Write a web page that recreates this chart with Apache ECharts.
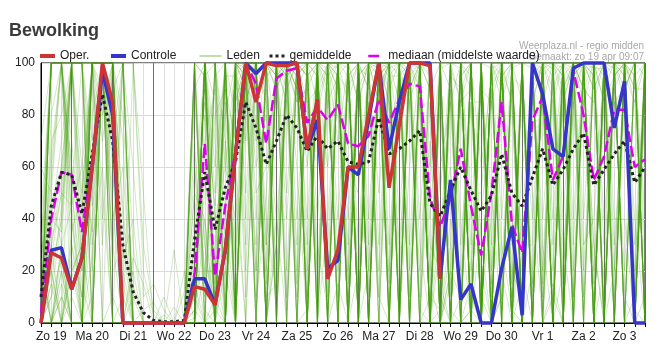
<!DOCTYPE html>
<html><head><meta charset="utf-8">
<script src="https://cdn.jsdelivr.net/npm/echarts@6/dist/echarts.min.js"></script>
<style>html,body{margin:0;padding:0;background:#fff}#c{width:671px;height:355px}</style>
</head><body><div id="c"></div>
<script>
// day tick labels (placed at noon of each day)
const dayLabels = ['Zo 19','Ma 20','Di 21','Wo 22','Do 23','Vr 24','Za 25','Zo 26','Ma 27','Di 28','Wo 29','Do 30','Vr 1','Za 2','Zo 3'];
// 6-hourly steps, first step = Zo 19 06:00
const oper = [0,27,25,13,25,60,100,85,0,0, 0,0,0,0,0,14,13,7,28,65, 100,85,100,99,99,100,67,86,17,28, 60,60,80,100,52,76,100,100,99,17];
const controle = [0,28,29,13,25,60,97,80,0,0, 0,0,0,0,0,17,17,7,28,65, 100,96,100,100,100,100,67,78,21,24, 60,57,78,100,67,85,100,100,100,18, 55,9,15,0,0,21,37,3,100,88, 67,64,98,100,100,100,75,93,0,0];
const gemiddelde = [10,45,58,57,42,65,88,70,30,12, 4,1,0.5,0.5,1,32,58,36,52,62, 85,75,61,70,80,75,66,72,67,70, 62,61,62,79,65,67,70,74,46,41, 51,60,51,43,49,65,50,45,56,67, 53,59,67,73,53,59,65,70,54,60];
const mediaan = [4,40,58,57,35,62,100,82,0,0, 0,0,0,0,0,19,69,18,45,66, 100,92,69,94,97,98,77,83,78,84, 69,68,72,86,77,86,92,91,48,37, 48,67,45,26,50,85,38,27,78,87, 55,64,97,80,55,64,82,82,60,63];
// ensemble members (50), listed per time step
const ledenPerStap = [
[0,5,20,0,10,0,0,30,0,15,0,0,8,0,25,0,40,0,0,12,0,20,0,0,0,60,0,5,0,10,35,0,0,18,0,0,0,0,22,0,0,10,0,0,70,0,0,28,0,0],
[20,60,100,0,45,100,30,100,0,25,100,10,55,100,0,70,100,40,0,100,35,0,100,15,100,50,0,100,20,65,0,100,30,100,0,10,100,40,0,80,100,20,0,50,100,0,30,100,15,0],
[40,100,100,20,60,100,0,100,30,50,100,25,100,100,0,80,100,35,10,100,60,0,100,45,100,30,20,100,0,100,15,100,55,100,0,40,100,70,0,100,100,0,30,100,100,10,50,100,0,25],
[100,60,100,0,100,100,20,50,45,100,70,0,100,100,30,100,40,100,0,60,100,35,0,100,50,100,0,100,25,100,0,100,100,40,0,100,20,100,10,55,30,100,0,100,100,0,45,100,20,0],
[100,20,30,0,100,45,0,100,60,0,25,0,100,100,0,40,10,100,0,35,100,50,0,100,15,100,0,60,0,100,0,100,20,0,0,100,30,100,0,0,10,100,0,100,50,0,0,100,30,0],
[100,100,50,100,30,100,0,100,100,60,100,40,100,0,100,100,80,0,100,100,20,100,100,70,0,100,100,35,100,0,100,0,100,100,55,100,0,100,25,100,100,60,0,100,100,0,100,45,100,10],
[100,100,100,100,60,100,100,100,90,100,100,100,30,100,100,100,100,100,70,100,100,85,100,100,100,0,100,100,100,100,100,100,100,50,100,100,95,100,100,0,100,100,100,100,40,100,100,100,80,100],
[100,50,100,100,0,100,75,100,30,100,0,100,100,60,100,20,100,100,100,40,100,100,0,100,85,100,30,100,0,100,100,70,100,0,100,100,45,100,100,10,90,100,0,100,100,25,100,0,100,65],
[0,100,0,20,0,100,0,45,0,100,10,0,100,0,0,30,100,0,0,60,0,0,100,0,15,0,100,0,0,80,0,100,0,0,40,0,0,100,0,0,100,0,0,25,0,100,0,0,70,0],
[0,0,0,0,0,100,0,0,0,30,0,0,60,0,0,0,0,0,20,0,0,0,0,0,0,100,0,0,0,15,0,100,0,0,0,0,0,0,10,0,0,0,0,40,0,0,0,0,0,25],
[0,0,0,0,0,30,0,0,0,0,0,0,10,0,0,0,0,0,0,0,0,0,0,0,0,50,0,0,0,0,0,20,0,0,0,0,0,0,0,0,0,0,0,0,0,0,0,5,0,15],
[0,0,0,0,0,5,0,0,0,0,0,0,15,0,0,0,0,0,0,0,0,0,0,0,0,0,0,0,0,0,0,3,0,0,0,0,0,0,0,0,0,0,0,0,0,0,0,8,0,0],
[0,0,0,0,0,0,0,0,0,0,0,0,5,0,0,0,0,0,0,0,0,0,0,0,0,10,0,0,0,0,0,0,0,0,0,0,0,0,0,0,0,0,0,0,0,0,0,0,0,3],
[0,0,0,6,0,0,0,0,0,0,0,0,0,0,0,0,0,0,0,0,0,0,0,0,0,0,0,0,0,0,0,0,0,0,0,0,0,28,0,0,0,0,0,0,0,0,0,0,0,0],
[0,0,0,0,0,0,0,0,0,0,0,0,0,0,0,0,0,0,0,12,0,0,0,0,0,0,0,0,0,0,0,0,0,0,0,0,0,0,0,0,0,20,0,0,0,0,0,0,0,0],
[0,100,5,0,20,95,0,10,40,0,100,0,2,60,0,90,0,10,30,100,0,5,100,0,30,0,0,85,50,0,100,0,15,0,98,0,50,0,0,70,0,0,100,0,25,15,0,100,0,0],
[100,95,0,100,50,10,100,0,85,100,0,100,98,20,80,100,0,90,100,5,100,70,0,100,0,60,100,30,100,20,95,0,100,100,0,100,40,100,40,0,100,0,15,100,90,0,100,30,0,100],
[0,100,10,0,95,30,0,100,45,5,100,0,20,80,0,0,100,0,60,0,15,90,0,0,100,0,40,0,100,20,0,5,100,0,0,85,0,40,0,100,50,0,100,0,10,0,70,0,0,10],
[100,0,95,20,100,80,0,45,100,0,10,100,0,90,100,0,70,0,100,30,100,5,100,85,0,100,0,70,0,100,0,100,30,0,95,0,100,60,0,60,100,0,100,0,20,90,0,100,40,0],
[0,100,95,60,10,100,90,0,100,85,100,0,100,70,0,100,25,100,30,100,0,98,100,0,100,80,100,0,90,5,100,100,0,85,0,100,20,100,100,40,0,95,100,100,0,50,100,0,100,70],
[100,95,100,0,100,100,90,100,70,100,98,100,20,100,85,100,100,95,100,50,100,100,90,100,10,100,100,80,100,95,100,40,100,100,98,100,100,90,30,100,100,85,100,100,100,0,95,100,100,100],
[100,10,100,95,100,40,100,85,100,0,100,90,100,20,100,100,60,98,0,100,100,95,5,100,80,100,100,30,100,100,0,100,90,100,20,100,100,85,100,0,100,100,95,50,100,100,0,100,70,100],
[0,100,100,15,100,90,0,100,30,100,100,5,100,95,0,100,80,0,100,100,20,100,50,100,0,100,10,100,85,0,100,100,0,40,100,0,100,95,0,100,0,100,100,60,100,30,100,0,100,0],
[100,95,20,100,100,0,100,90,100,10,0,100,100,98,30,100,40,100,100,70,100,0,100,95,100,100,15,100,0,100,100,90,100,10,100,100,0,100,30,100,100,5,100,100,0,100,95,40,100,100],
[100,100,95,100,0,100,90,100,100,98,100,20,100,85,100,100,0,100,95,100,100,90,100,10,100,100,100,95,100,40,0,100,100,98,100,50,100,85,100,100,100,100,5,100,95,100,100,90,0,100],
[100,0,100,95,100,90,30,100,100,85,100,98,100,0,100,100,95,100,10,100,0,100,90,100,100,20,100,100,85,100,100,95,0,100,60,100,0,15,100,100,100,90,100,100,0,100,40,100,98,100],
[0,100,95,10,100,100,90,0,100,85,100,20,100,98,100,0,100,60,100,0,100,95,0,100,30,100,100,0,90,100,0,100,100,85,0,100,5,100,70,0,100,40,100,0,100,95,100,0,100,10],
[100,95,0,100,100,20,100,90,100,5,100,100,85,0,100,98,40,100,100,100,10,100,95,100,100,100,0,100,30,100,100,0,100,90,100,100,100,0,80,100,100,100,0,100,15,100,95,100,0,100],
[100,0,100,95,30,100,100,0,90,100,10,100,100,100,85,0,100,98,0,100,100,95,20,100,0,100,100,100,5,100,100,90,0,100,100,0,100,40,100,100,0,100,85,0,100,100,60,100,100,0],
[0,100,95,100,100,10,100,100,30,100,100,90,0,100,20,100,100,85,100,0,100,5,100,98,100,100,0,100,100,95,40,100,100,100,0,100,90,100,0,100,100,100,95,0,100,0,100,70,100,15],
[100,95,0,100,15,100,0,100,90,0,100,30,100,0,100,85,100,0,100,100,5,100,100,20,100,0,95,100,0,100,100,100,0,98,100,60,0,10,100,0,0,100,90,100,0,100,40,100,100,0],
[0,100,98,10,100,100,90,0,100,20,100,95,0,100,0,100,5,100,85,0,100,0,100,100,30,100,100,0,95,100,0,100,90,0,100,50,100,100,0,100,100,15,0,100,100,0,100,85,0,100],
[100,0,95,100,20,100,0,100,90,100,0,100,100,10,100,0,98,40,100,100,100,85,0,100,100,0,5,100,100,0,100,0,100,95,0,100,100,30,100,0,0,100,100,0,90,100,0,100,20,100],
[100,95,100,10,100,100,90,100,0,100,100,100,85,100,30,100,100,98,100,0,100,20,100,95,100,100,100,0,100,90,100,100,100,50,100,85,100,100,98,100,100,100,0,100,95,10,100,100,90,100],
[100,0,100,95,10,100,100,30,90,100,100,5,100,0,100,98,100,0,85,0,0,100,100,100,20,100,0,100,95,100,100,90,0,100,0,100,100,60,100,0,100,0,100,85,100,0,100,100,15,100],
[100,100,0,95,100,20,100,90,0,100,10,100,100,85,0,100,100,98,0,100,100,40,100,0,100,95,100,0,100,5,0,100,90,100,100,0,100,100,70,0,100,100,0,30,100,100,0,85,100,100],
[0,100,95,100,10,100,100,90,100,0,100,98,30,100,100,0,100,85,100,100,100,100,95,0,100,5,100,100,0,100,100,20,100,100,90,100,0,100,100,60,0,100,100,85,0,100,100,0,100,95],
[100,100,0,100,95,100,10,100,100,90,100,0,100,100,98,100,100,20,100,100,0,100,100,85,100,100,0,100,100,30,100,95,100,0,100,100,100,90,0,100,100,100,5,100,100,85,40,100,100,0],
[0,100,10,100,0,30,100,0,95,0,100,0,100,5,0,90,0,100,20,100,0,100,0,40,100,0,85,0,100,0,100,0,15,100,0,100,0,60,100,0,0,100,0,98,0,10,100,0,90,70],
[100,0,5,0,95,20,100,0,0,100,0,90,0,100,60,0,100,10,100,0,85,0,30,100,0,100,0,0,15,100,0,100,0,0,98,0,40,100,50,0,100,0,90,0,0,100,0,5,100,0],
[0,100,95,20,0,100,0,90,100,10,100,0,30,100,85,0,100,0,5,100,0,98,100,0,40,100,0,100,0,90,100,0,100,15,100,0,60,0,100,0,0,100,0,95,0,100,20,100,0,85],
[100,0,90,100,10,100,95,0,100,85,0,100,100,30,100,0,98,100,0,100,100,85,0,100,20,100,0,100,90,0,5,100,100,95,0,100,0,100,40,100,100,0,100,0,100,85,10,100,100,0],
[0,100,20,95,100,0,100,5,0,90,100,0,100,85,0,100,30,0,100,10,0,100,95,0,100,0,100,50,100,85,100,0,0,100,15,100,98,0,0,100,0,100,40,100,0,0,100,90,0,5],
[100,0,95,0,60,100,10,100,0,0,5,100,0,20,100,0,90,0,100,0,100,0,30,100,0,0,100,50,0,85,0,100,0,10,100,0,0,95,0,100,100,0,100,0,40,100,0,0,90,0],
[0,100,10,100,95,0,40,100,0,90,100,0,100,0,20,100,85,0,5,100,0,100,0,98,0,100,30,100,100,0,100,0,90,0,0,100,100,15,100,0,0,100,0,100,85,0,100,0,50,100],
[100,95,100,0,100,20,100,90,10,100,100,100,0,85,100,100,30,100,98,0,100,0,100,100,10,100,95,0,100,100,0,100,20,100,0,100,5,100,85,100,100,40,100,0,100,98,100,0,0,100],
[0,100,20,100,0,95,0,100,90,10,0,100,100,30,100,0,5,85,0,100,100,0,100,0,98,40,100,0,0,100,100,15,0,100,90,0,100,0,100,0,10,100,0,100,0,85,0,100,0,100],
[100,0,10,100,0,90,100,0,30,100,95,0,0,100,20,100,0,5,100,0,0,100,0,40,100,0,85,100,0,10,0,100,98,0,0,100,0,60,100,0,100,0,100,0,90,0,15,100,0,100],
[0,100,95,10,100,0,100,90,30,100,0,100,85,100,0,100,20,100,98,0,100,5,100,95,0,100,40,0,100,90,100,0,15,100,100,0,100,85,0,0,100,95,0,100,50,100,100,0,100,0],
[100,98,0,100,90,100,20,100,100,0,100,10,100,85,100,0,100,95,30,100,0,100,100,90,100,5,100,100,100,40,100,100,85,0,100,100,0,100,98,0,15,100,100,100,0,90,100,100,0,100],
[100,0,100,20,0,95,100,0,90,10,0,100,30,100,98,0,5,100,0,100,100,85,0,0,100,100,40,100,0,90,0,100,10,100,0,100,85,0,100,15,100,0,100,0,95,0,0,100,60,100],
[0,100,95,100,20,100,0,85,0,100,100,10,100,98,0,100,90,0,100,30,5,100,100,0,100,40,100,95,0,100,100,85,0,100,100,0,15,100,90,0,100,0,100,85,0,100,0,100,100,20],
[100,95,10,100,100,90,100,0,100,30,100,100,98,0,100,20,100,85,100,0,100,0,100,95,100,100,5,100,90,0,40,100,100,100,0,100,98,0,100,100,100,85,0,100,100,10,100,100,0,100],
[100,100,95,0,100,100,20,100,90,100,10,100,100,98,100,85,0,100,100,100,100,95,0,100,30,100,100,90,0,0,100,100,85,100,0,100,100,98,40,100,100,5,100,100,90,100,0,100,100,100],
[0,100,20,100,95,0,100,10,100,0,100,0,90,30,100,100,0,98,0,100,5,100,100,0,40,100,0,85,100,0,100,95,0,100,0,15,100,0,100,90,0,100,0,100,85,0,100,0,30,100],
[100,0,95,100,10,100,0,90,100,20,0,100,100,0,85,0,100,98,0,100,100,95,30,100,100,0,100,0,85,100,0,100,90,5,100,100,0,100,0,100,100,40,100,0,100,0,100,85,0,100],
[100,95,0,100,100,20,100,90,0,100,100,100,10,100,0,85,100,0,100,98,0,100,100,95,30,100,100,100,0,100,100,0,100,90,100,0,20,40,100,100,100,85,0,100,5,100,100,95,0,100],
[100,100,95,0,100,100,90,10,100,100,98,0,100,100,85,20,100,100,95,0,100,100,0,100,90,100,0,100,100,85,0,100,95,100,0,100,100,40,100,0,100,90,100,0,100,100,0,100,98,100],
[0,100,100,10,95,0,100,0,90,100,20,100,0,100,0,98,0,100,85,0,100,0,100,30,100,0,100,95,0,5,100,90,0,100,0,100,15,0,100,100,0,100,0,100,85,0,100,0,40,100],
[100,0,95,100,0,100,20,100,90,0,100,100,10,100,95,0,100,0,100,85,0,100,30,100,100,98,0,100,85,0,0,100,100,5,100,0,100,95,0,100,100,0,90,100,0,100,40,100,0,100]
];

const FONT = "'Liberation Sans', Arial, sans-serif";
const steps = ledenPerStap.map((c, i) => String(i));

const series = [];
for (let m = 0; m < 50; m++) {
  series.push({
    name: 'Leden', type: 'line', data: ledenPerStap.map(c => c[m]),
    symbol: 'none', silent: true, z: 2,
    lineStyle: { color: '#48a012', width: 1, opacity: 0.24 },
    itemStyle: { color: '#48a012' }
  });
}
series.push({ name: 'mediaan (middelste waarde)', type: 'line', data: mediaan, symbol: 'none', z: 3,
  lineStyle: { color: '#dd00ee', width: 2.5, type: [11, 4] }, itemStyle: { color: '#dd00ee' } });
series.push({ name: 'gemiddelde', type: 'line', data: gemiddelde, symbol: 'none', z: 4,
  lineStyle: { color: '#222222', width: 3, type: [3, 3] }, itemStyle: { color: '#222222' } });
series.push({ name: 'Controle', type: 'line', data: controle, symbol: 'none', z: 5, clip: false,
  lineStyle: { color: '#3535c8', width: 3.5 }, itemStyle: { color: '#3535c8' } });
series.push({ name: 'Oper.', type: 'line', data: oper, symbol: 'none', z: 6, clip: false,
  lineStyle: { color: '#cc3535', width: 3.5 }, itemStyle: { color: '#cc3535' } });

function leg(name, left, w, lw, op) {
  const l = { data: [name], left: left, top: 50, itemWidth: w, itemHeight: 12, itemGap: 0,
    padding: 0, selectedMode: false,
    itemStyle: { opacity: 0 },
    textStyle: { fontFamily: FONT, fontSize: 12, color: '#222' } };
  if (lw) l.lineStyle = { width: lw, opacity: op == null ? 1 : op };
  return l;
}

const chart = echarts.init(document.getElementById('c'), null, { renderer: 'canvas' });
chart.setOption({
  animation: false,
  backgroundColor: '#fff',
  textStyle: { fontFamily: FONT },
  title: { text: 'Bewolking', left: 9, top: 22, padding: 0,
    textStyle: { fontFamily: FONT, fontSize: 18, fontWeight: 'bold', color: '#3a3a3a' } },
  graphic: [
    { type: 'text', right: 27, top: 41, style: { text: 'Weerplaza.nl - regio midden', fill: '#a8a8a8', font: '10px ' + FONT } },
    { type: 'text', right: 27, top: 52, style: { text: 'Gemaakt: zo 19 apr 09:07', fill: '#a8a8a8', font: '10px ' + FONT } }
  ],
  legend: [
    leg('Oper.', 38, 15, 4), leg('Controle', 109, 15, 4), leg('Leden', 199, 22, 1, 0.7),
    leg('gemiddelde', 268, 15, 3), leg('mediaan (middelste waarde)', 367, 15, 2.5)
  ],
  grid: { left: 41, right: 26, top: 63, bottom: 32, show: true, borderColor: '#000', borderWidth: 1, backgroundColor: 'transparent' },
  xAxis: [
    { type: 'category', data: steps, boundaryGap: false,
      axisLine: { lineStyle: { color: '#000', width: 1 } },
      axisTick: { show: true, interval: 0, length: 4, lineStyle: { color: '#000' } },
      axisLabel: { interval: (i) => i % 4 === 1, formatter: (v, i) => dayLabels[(i - 1) / 4] || '',
        fontFamily: FONT, fontSize: 12, color: '#222', margin: 8 },
      splitLine: { show: true, interval: 0, lineStyle: { color: '#dcdcdc', width: 1 } } },
    { type: 'category', data: steps, boundaryGap: false, position: 'bottom',
      axisLine: { show: false }, axisTick: { show: false }, axisLabel: { show: false },
      splitLine: { show: true, interval: (i) => i % 4 === 3, lineStyle: { color: '#6e6e6e', width: 1 } } }
  ],
  yAxis: { type: 'value', min: 0, max: 100, interval: 20,
    axisLine: { show: true, lineStyle: { color: '#000' } }, axisTick: { show: false },
    axisLabel: { fontFamily: FONT, fontSize: 12, color: '#222', margin: 6 },
    splitLine: { lineStyle: { color: '#dcdcdc' } } },
  series: series
});
</script>
</body></html>
